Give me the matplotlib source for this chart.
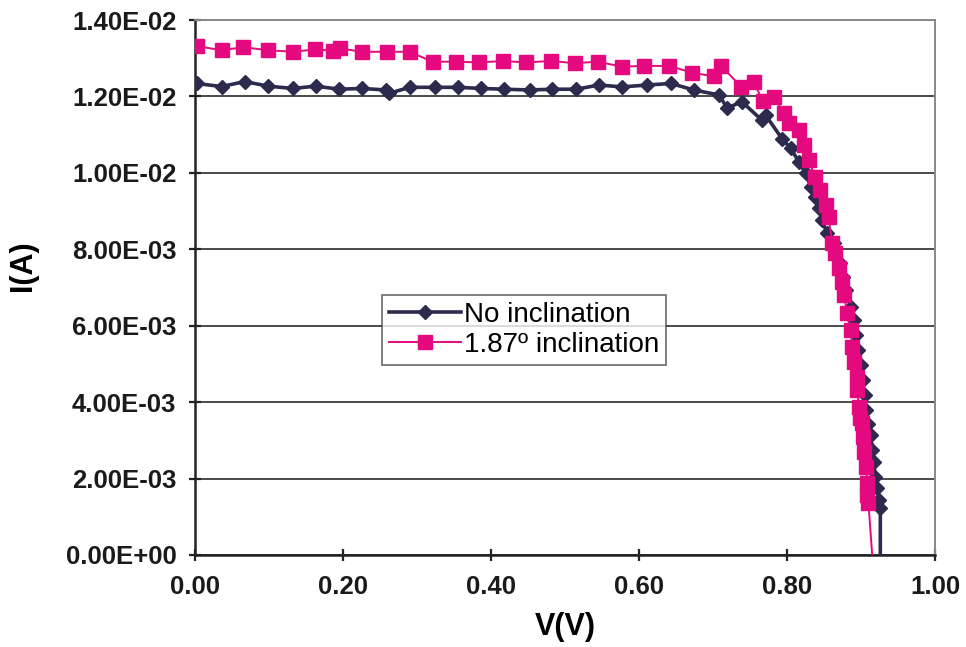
import matplotlib
matplotlib.use("Agg")
import matplotlib.pyplot as plt
from matplotlib.ticker import FuncFormatter, MultipleLocator

# I-V curve data (V in volts, I in amperes)
v_no = [0.002, 0.036, 0.067, 0.099, 0.132, 0.163, 0.195, 0.226, 0.258, 0.262,
        0.290, 0.324, 0.355, 0.387, 0.418, 0.452, 0.483, 0.515, 0.546, 0.577,
        0.611, 0.643, 0.674, 0.708, 0.719, 0.739, 0.766, 0.771, 0.793, 0.805,
        0.816, 0.825, 0.832, 0.838, 0.843, 0.847, 0.854, 0.864, 0.871, 0.875,
        0.880, 0.887, 0.891, 0.893, 0.896, 0.900, 0.902, 0.905, 0.906, 0.910,
        0.913, 0.915, 0.917, 0.919, 0.922, 0.924, 0.926, 0.926]
i_no = [0.01234, 0.01226, 0.01239, 0.01227, 0.01221, 0.01227, 0.01219, 0.01221, 0.01217, 0.01208,
        0.01224, 0.01224, 0.01224, 0.01221, 0.01219, 0.01217, 0.01219, 0.01219, 0.01230, 0.01225,
        0.01230, 0.01234, 0.01217, 0.01204, 0.01170, 0.01186, 0.01138, 0.01151, 0.01090, 0.01064,
        0.01029, 0.00999, 0.00964, 0.00938, 0.00907, 0.00877, 0.00842, 0.00816, 0.00763, 0.00728,
        0.00694, 0.00650, 0.00615, 0.00576, 0.00537, 0.00497, 0.00458, 0.00419, 0.00379, 0.00344,
        0.00314, 0.00275, 0.00244, 0.00205, 0.00175, 0.00144, 0.00122, 0.0]

v_inc = [0.002, 0.036, 0.065, 0.099, 0.132, 0.162, 0.187, 0.196, 0.225, 0.259,
         0.290, 0.321, 0.353, 0.384, 0.416, 0.447, 0.481, 0.513, 0.544, 0.577,
         0.607, 0.641, 0.672, 0.701, 0.711, 0.738, 0.755, 0.767, 0.782, 0.796,
         0.802, 0.816, 0.823, 0.829, 0.838, 0.845, 0.852, 0.856, 0.861, 0.865,
         0.870, 0.874, 0.877, 0.881, 0.886, 0.888, 0.890, 0.894, 0.895, 0.897,
         0.899, 0.901, 0.902, 0.904, 0.907, 0.908, 0.908, 0.910, 0.915]
i_inc = [0.01332, 0.01321, 0.01329, 0.01321, 0.01317, 0.01323, 0.01320, 0.01326, 0.01317, 0.01317,
         0.01317, 0.01291, 0.01291, 0.01289, 0.01293, 0.01289, 0.01293, 0.01287, 0.01291, 0.01278,
         0.01280, 0.01280, 0.01262, 0.01253, 0.01280, 0.01225, 0.01239, 0.01188, 0.01199, 0.01156,
         0.01130, 0.01112, 0.01073, 0.01034, 0.00990, 0.00955, 0.00916, 0.00885, 0.00816, 0.00790,
         0.00750, 0.00715, 0.00680, 0.00633, 0.00589, 0.00545, 0.00506, 0.00467, 0.00432, 0.00388,
         0.00358, 0.00345, 0.00310, 0.00270, 0.00231, 0.00188, 0.00157, 0.00135, 0.0]

labels = ["No inclination", "1.87\u00ba inclination"]

plt.rcParams['font.family'] = ['Liberation Sans', 'DejaVu Sans']

fig = plt.figure(figsize=(9.66, 6.47), dpi=100)
ax = fig.add_axes([0.2019, 0.1422, 0.968 - 0.2019, 0.969 - 0.1422])

navy = '#2c2a4d'
pink = '#e5097f'

# last point (I = 0) is drawn without a marker, as in the original
ax.plot(v_no, i_no, color=navy, lw=2.6, marker='D', ms=7.5,
        markevery=list(range(len(v_no) - 1)), label=labels[0], zorder=3)
ax.plot(v_inc, i_inc, color=pink, lw=1.4, marker='s', ms=9.5,
        markevery=list(range(len(v_inc) - 1)), label=labels[1], zorder=4)

ax.set_xlim(0, 1.0)
ax.set_ylim(0, 0.014)
ax.xaxis.set_major_locator(MultipleLocator(0.2))
ax.yaxis.set_major_locator(MultipleLocator(0.002))
ax.xaxis.set_major_formatter(FuncFormatter(lambda v, p: f"{v:.2f}"))
ax.yaxis.set_major_formatter(FuncFormatter(lambda v, p: f"{v:.2E}"))

ax.grid(axis='y', color='#4a4a4a', lw=1.4)
ax.set_axisbelow(True)

for s in ['left', 'bottom']:
    ax.spines[s].set_color('#222222')
    ax.spines[s].set_linewidth(1.8)
for s in ['top', 'right']:
    ax.spines[s].set_color('#888888')
    ax.spines[s].set_linewidth(1.4)

ax.tick_params(direction='inout', length=9, width=1.6, color='#222222',
               labelsize=18.5, pad=9)
for t in ax.get_xticklabels() + ax.get_yticklabels():
    t.set_fontweight('bold')
    t.set_color('#1a1a1a')
ax.tick_params(axis='x', pad=10)

ax.set_xlabel("V(V)", fontsize=22, fontweight='bold', labelpad=9)
ax.set_ylabel("I(A)", fontsize=22, fontweight='bold')
ax.yaxis.set_label_coords(-0.212, 0.54)

leg = ax.legend(loc='upper left', bbox_to_anchor=(0.253, 0.486), fontsize=20,
                frameon=True, fancybox=False, edgecolor='#444444',
                borderpad=0.25, handlelength=2.6, handletextpad=0.1,
                labelspacing=0.15, borderaxespad=0)
leg.get_frame().set_linewidth(1.2)

fig.savefig("out.png", dpi=100)
